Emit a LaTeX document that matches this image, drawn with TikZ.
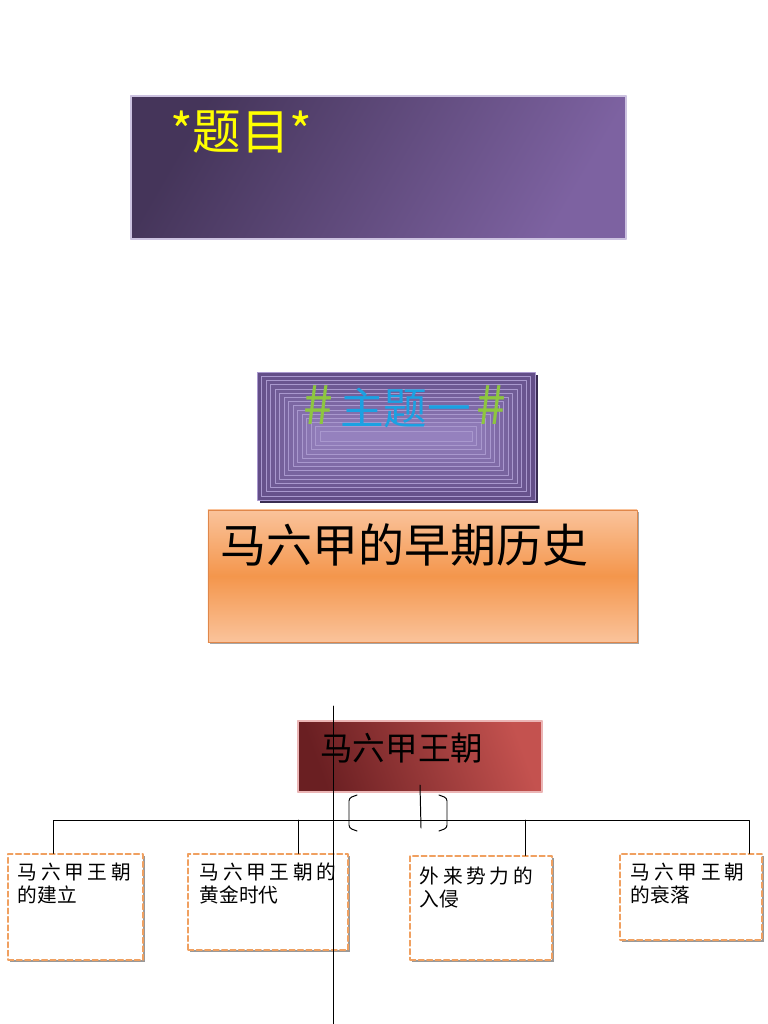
\documentclass[tikz,border=0pt]{standalone}
\usepackage{fontspec}
\setmainfont{Noto Sans CJK SC}
\newfontfamily\spacedfont{Noto Sans CJK SC}[LetterSpace=19]
\usepackage{tikz}
\usetikzlibrary{calc,shadows}
\usetikzlibrary{positioning}
\usepackage{xcolor}

\definecolor{titleDark}{HTML}{45355A}
\definecolor{titleLight}{HTML}{7D62A1}
\definecolor{titleEdge}{HTML}{CCC2E0}
\definecolor{titleYellow}{HTML}{FFFF00}
\definecolor{themeOut}{HTML}{634E88}
\definecolor{themeIn}{HTML}{9682BF}
\definecolor{themeLine}{HTML}{A998CE}
\definecolor{themeShadow}{HTML}{3A2D52}
\definecolor{hashGreen}{HTML}{8DC63F}
\definecolor{topicBlue}{HTML}{1BA1E2}
\definecolor{orangeLight}{HTML}{FAC39B}
\definecolor{orangeMid}{HTML}{F4964C}
\definecolor{orangeEdge}{HTML}{E0874A}
\definecolor{dynDark}{HTML}{6A1F22}
\definecolor{dynLight}{HTML}{C4524F}
\definecolor{dynEdge}{HTML}{EBB5B5}
\definecolor{kidEdge}{HTML}{F0A060}

\begin{document}
\begin{tikzpicture}[x=0.025cm, y=-0.025cm, line cap=round, line join=round,
  kid/.style={draw=kidEdge, dash pattern=on 4pt off 2pt, line width=0.9pt, fill=white,
    drop shadow={shadow xshift=0.05cm, shadow yshift=-0.05cm, fill=black!40, opacity=1}},
  kidtext/.style={anchor=north west, inner sep=0pt, align=left, font=\fontsize{14}{17}\selectfont},
  link/.style={line width=0.7pt}]
  \useasboundingbox (0,0) rectangle (768,1024);

  % Title box
  \node[minimum width=12.375cm, minimum height=3.575cm, draw=titleEdge, line width=1pt,
    top color=titleDark, bottom color=titleLight, shading angle=60] (title) at (378.5,167.5) {};
  \node[anchor=west, inner sep=0pt, text=titleYellow, font=\fontsize{34.5}{35}\selectfont]
    (titletext) at (170,132) {*题目*};

  % Theme box with rings
  \node[minimum width=6.95cm, minimum height=3.2cm, fill=themeOut,
    drop shadow={shadow xshift=0.07cm, shadow yshift=-0.07cm, fill=themeShadow, opacity=1}] (theme) at (396,436) {};
  \foreach \i in {0,...,14}{
    \pgfmathsetmacro\hw{139-4.5*\i}
    \pgfmathsetmacro\hh{64-4.2*\i}
    \pgfmathtruncatemacro\mix{7*\i}
    \filldraw[fill=themeIn!\mix!themeOut, draw=themeLine, line width=0.3pt]
      ($(theme.center)+(-\hw,-\hh)$) rectangle ($(theme.center)+(\hw,\hh)$);
  }
  \node[inner sep=0pt, font=\fontsize{31}{31}\selectfont] (themetext) at (405,407)
    {\textcolor{hashGreen}{\fontsize{38}{38}\selectfont\#}\hspace{0.18cm}\textcolor{topicBlue}{主题一}\hspace{0.15cm}\textcolor{hashGreen}{\fontsize{38}{38}\selectfont\#}};

  % Early history box
  \node[minimum width=10.725cm, minimum height=3.3cm, draw=orangeEdge, line width=0.6pt,
    top color=orangeLight, bottom color=orangeLight, middle color=orangeMid,
    drop shadow={shadow xshift=0.05cm, shadow yshift=-0.05cm, fill=black!35, opacity=1}] (early) at (422.5,576) {};
  \node[anchor=west, inner sep=0pt, font=\fontsize{32.7}{33}\selectfont] (earlytext) at (220,545) {马六甲的早期历史};

  % Dynasty box
  \node[minimum width=6.1cm, minimum height=1.775cm, draw=dynEdge, line width=1pt,
    left color=dynDark, right color=dynLight, shading angle=110] (dyn) at (420,756.5) {};
  \node[anchor=west, inner sep=0pt, font=\fontsize{23.2}{24}\selectfont] (dyntext) at (320,748) {马六甲王朝};

  % Sub-topics
  \node[kid, minimum width=3.375cm, minimum height=2.65cm] (kidA) at (75.5,907) {};
  \node[kid, minimum width=4cm, minimum height=2.4cm] (kidB) at (268,902) {};
  \node[kid, minimum width=3.55cm, minimum height=2.6cm] (kidC) at (481,908) {};
  \node[kid, minimum width=3.55cm, minimum height=2.15cm] (kidD) at (691,897) {};

  \node[kidtext] (textA) at ([xshift=0.25cm, yshift=-0.22cm]kidA.north west) {{\spacedfont 马六甲王朝}\\的建立};
  \node[kidtext] (textB) at ([xshift=0.3cm, yshift=-0.22cm]kidB.north west) {{\spacedfont 马六甲王朝的}\\黄金时代};
  \node[kidtext] (textC) at ([xshift=0.25cm, yshift=-0.27cm]kidC.north west) {{\spacedfont 外来势力的}\\入侵};
  \node[kidtext] (textD) at ([xshift=0.28cm, yshift=-0.22cm]kidD.north west) {{\spacedfont 马六甲王朝}\\的衰落};

  % Bar and drops
  \coordinate (bar) at (0,820);
  \coordinate (dropA) at (53,820);
  \coordinate (dropB) at (298,820);
  \coordinate (dropC) at (525,820);
  \coordinate (dropD) at (749,820);
  \draw[link] (dropA |- kidA.north) -- (dropA) -- (dropD) -- (dropD |- kidD.north);
  \draw[link] (dropB) -- (dropB |- kidB.north);
  \draw[link] (dropC) -- (dropC |- kidC.north);

  % Brackets under the dynasty box
  \coordinate (tickTop) at (420,785);
  \coordinate (tickBot) at (421,828);
  \draw[link] (tickTop) -- (tickBot);
  \draw[link, rounded corners=2pt] (357,795) -- (349,798) -- (349,828) -- (357,831);
  \draw[link, rounded corners=2pt] (439,795) -- (447,798) -- (447,828) -- (439,831);

  % Long vertical line
  \coordinate (axisTop) at (333,706);
  \coordinate (axisBot) at (333,1024);
  \draw[link] (axisTop) -- (axisBot);
\end{tikzpicture}
\end{document}
